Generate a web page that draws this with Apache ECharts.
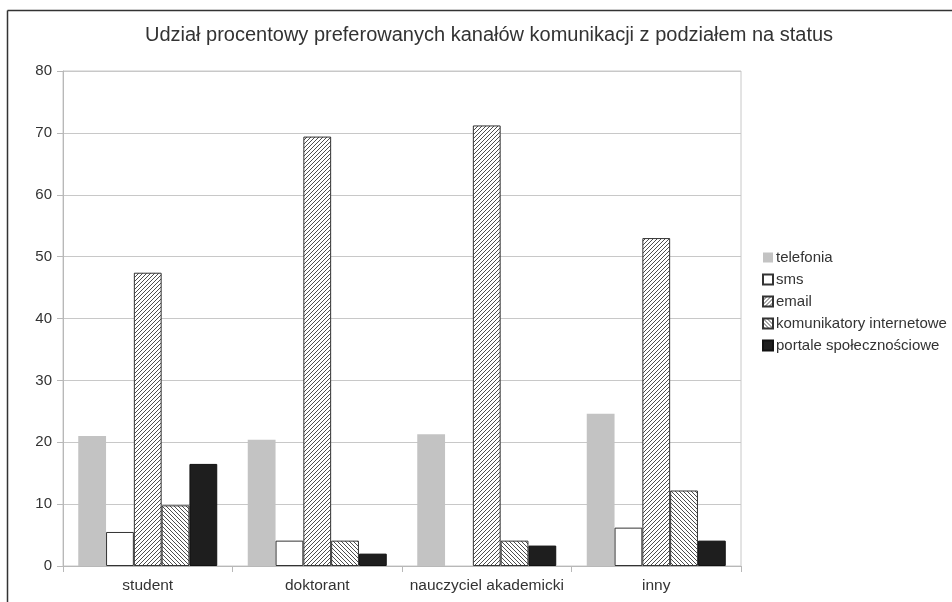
<!DOCTYPE html>
<html><head><meta charset="utf-8">
<script src="https://cdn.jsdelivr.net/npm/echarts@6/dist/echarts.min.js"></script>
<style>html,body{margin:0;padding:0;background:#fff}#c{width:952px;height:602px}</style>
</head><body><div id="c"></div>
<script>
var categories = ['student', 'doktorant', 'nauczyciel akademicki', 'inny'];
var seriesNames = ['telefonia', 'sms', 'email', 'komunikatory internetowe', 'portale społecznościowe'];
var telefonia = [21.0, 20.4, 21.3, 24.6];
var sms = [5.5, 4.1, 0, 6.2];
var email = [47.4, 69.4, 71.2, 53.0];
var komunikatory = [9.8, 4.1, 4.1, 12.2];
var portale = [16.5, 2.0, 3.3, 4.1];
var yTicks = [0, 10, 20, 30, 40, 50, 60, 70, 80];

function hatch(dir) {
  var s = 4, c = document.createElement('canvas');
  c.width = s; c.height = s;
  var g = c.getContext('2d');
  g.fillStyle = '#fff'; g.fillRect(0, 0, s, s);
  g.strokeStyle = '#3a3a3a'; g.lineWidth = 0.9;
  g.beginPath();
  if (dir > 0) {
    g.moveTo(-1, s + 1); g.lineTo(s + 1, -1);
    g.moveTo(-1, 1); g.lineTo(1, -1);
    g.moveTo(s - 1, s + 1); g.lineTo(s + 1, s - 1);
  } else {
    g.moveTo(-1, -1); g.lineTo(s + 1, s + 1);
    g.moveTo(s - 1, -1); g.lineTo(s + 1, 1);
    g.moveTo(-1, s - 1); g.lineTo(1, s + 1);
  }
  g.stroke();
  return { image: c, repeat: 'repeat' };
}

var styles = [
  { color: '#c3c3c3', borderWidth: 0 },
  { color: '#ffffff', borderColor: '#333', borderWidth: 1 },
  { color: hatch(1), borderColor: '#333', borderWidth: 1 },
  { color: hatch(-1), borderColor: '#333', borderWidth: 1 },
  { color: '#1e1e1e', borderColor: '#111', borderWidth: 1 }
];
var dataSets = [telefonia, sms, email, komunikatory, portale];
var font = 'Liberation Sans, Arial, sans-serif';

var chart = echarts.init(document.getElementById('c'));
chart.setOption({
  animation: false,
  title: {
    text: 'Udział procentowy preferowanych kanałów komunikacji z podziałem na status',
    left: 484, top: 20, textAlign: 'center',
    textStyle: { fontFamily: font, fontSize: 20, fontWeight: 'normal', color: '#333' }
  },
  legend: {
    orient: 'vertical', left: 757, top: 245, itemWidth: 10, itemHeight: 10, itemGap: 7,
    icon: 'rect',
    textStyle: { fontFamily: font, fontSize: 15, color: '#333', padding: [0, 0, 0, -2] },
    data: seriesNames
  },
  grid: { left: 63, right: 211, top: 71, bottom: 36, show: true, borderColor: '#c8c8c8', borderWidth: 1 },
  xAxis: {
    type: 'category', data: categories,
    axisLine: { lineStyle: { color: '#b8b8b8' } },
    axisTick: { show: true, length: 6, interval: 0, lineStyle: { color: '#b8b8b8' } },
    axisLabel: { fontFamily: font, fontSize: 15.5, color: '#333', margin: 12, interval: 0 }
  },
  yAxis: {
    type: 'value', min: 0, max: 80, interval: 10,
    axisLine: { show: true, lineStyle: { color: '#b8b8b8' } },
    axisTick: { show: true, length: 6, lineStyle: { color: '#b8b8b8' } },
    splitLine: { lineStyle: { color: '#c8c8c8' } },
    axisLabel: { fontFamily: font, fontSize: 15, color: '#333', margin: 11,
      formatter: function (v) { return yTicks.indexOf(v) >= 0 ? String(v) : ''; } }
  },
  series: seriesNames.map(function (n, i) {
    return {
      name: n, type: 'bar',
      data: dataSets[i].map(function (v) {
        return v === 0 ? { value: 0, itemStyle: { borderWidth: 0, opacity: 0 } } : v;
      }),
      barGap: '0%', barCategoryGap: '18%',
      itemStyle: styles[i]
    };
  }),
  graphic: [
    { type: 'line', shape: { x1: 7.5, y1: 10.5, x2: 952, y2: 10.5 }, style: { stroke: '#333', lineWidth: 1.5 } },
    { type: 'line', shape: { x1: 7.5, y1: 10.5, x2: 7.5, y2: 602 }, style: { stroke: '#333', lineWidth: 1.5 } }
  ]
});
</script></body></html>
